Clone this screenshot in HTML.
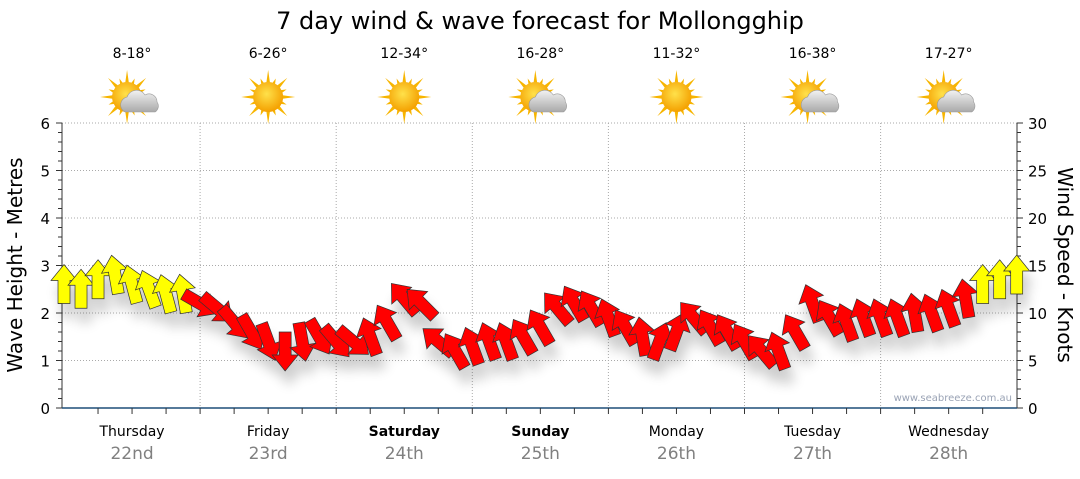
<!DOCTYPE html>
<html><head><meta charset="utf-8">
<style>
body{margin:0;background:#fff;font-family:"DejaVu Sans","Liberation Sans",sans-serif;}
svg text{font-family:"DejaVu Sans","Liberation Sans",sans-serif;}
</style></head>
<body>
<svg id="chart" width="1080" height="475" viewBox="0 0 1080 475" xmlns="http://www.w3.org/2000/svg">
<defs>
<filter id="sh" x="-50%" y="-50%" width="200%" height="250%">
<feGaussianBlur in="SourceAlpha" stdDeviation="6"/>
<feOffset dx="4" dy="14" result="b"/>
<feComponentTransfer><feFuncA type="linear" slope="0.2"/></feComponentTransfer>
<feMerge><feMergeNode/><feMergeNode in="SourceGraphic"/></feMerge>
</filter>
<radialGradient id="sun" cx="45%" cy="40%" r="60%"><stop offset="0" stop-color="#ffe14a"/><stop offset="1" stop-color="#f4a000"/></radialGradient>
<linearGradient id="cl" x1="0" y1="0" x2="0" y2="1"><stop offset="0" stop-color="#f2f2f2"/><stop offset="1" stop-color="#a9a9a9"/></linearGradient>
</defs>
<text x="540" y="29" font-size="24" text-anchor="middle" fill="#000">7 day wind &amp; wave forecast for Mollongghip</text>
<g id="grid"></g>
<g id="icons"></g>
<g id="axes"></g>
<g id="arrows" filter="url(#sh)"></g>
<text x="1012" y="401" font-size="10" text-anchor="end" fill="#9aa3b5">www.seabreeze.com.au</text>
<text transform="translate(22,265) rotate(-90)" font-size="20" text-anchor="middle">Wave Height - Metres</text>
<text transform="translate(1058,265) rotate(90)" font-size="20" text-anchor="middle">Wind Speed - Knots</text>
</svg>
<script>
const days=["Thursday","Friday","Saturday","Sunday","Monday","Tuesday","Wednesday"];
const dates=["22nd","23rd","24th","25th","26th","27th","28th"];
const boldDays=[false,false,true,true,false,false,false];
const temps=["8-18°","6-26°","12-34°","16-28°","11-32°","16-38°","17-27°"];
const cloudy=[true,false,false,true,false,true,true];
const waveTicks=[0,1,2,3,4,5,6];
const windTicks=[0,5,10,15,20,25,30];
// 3-hourly wind speed (knots) and direction arrow points (deg, 0=up)
const windSpeed=[13,12.5,13.5,14,13,12.5,12,12,
 11,10.5,9,8,7,6,7,7.5,
 7,7,7.5,9,11.5,11,7,6,
 6.5,7,7,7.5,8.5,10.5,11,10.5,
 9.5,8.5,7.5,7,8,9.5,8.5,8,
 7,6,6,8,11,9.5,9,9.5,
 9.5,9.5,10,10,10.5,11.5,13,13.5,14];
const windDir=[0,0,0,-10,-15,-20,-15,-10,
 120,130,140,150,160,180,170,150,
 140,130,-20,-30,-40,-45,-50,-30,
 -20,-20,-20,-30,-30,-40,-30,-30,
 -20,-30,-10,20,20,-40,-30,-30,
 -30,-40,-20,-30,-20,-30,-20,-20,
 -20,-20,-10,-20,-20,-10,0,0,0];
const NS="http://www.w3.org/2000/svg";
const X0=64,DW=136.1,Y0=408,Y6=123,XL=62,XR=1017;
const xH=h=>X0+DW*h/24;
const yM=m=>Y0-(Y0-Y6)*m/6;
const yK=k=>Y0-(Y0-Y6)*k/30;
function mk(t,a,p){const e=document.createElementNS(NS,t);for(const k in a)e.setAttribute(k,a[k]);(p||document.getElementById('chart')).appendChild(e);return e;}
const grid=document.getElementById('grid'),axes=document.getElementById('axes'),icons=document.getElementById('icons'),ar=document.getElementById('arrows');
waveTicks.forEach(v=>{
 if(v>0){const g=mk('line',{x1:XL,x2:XR,y1:yM(v),y2:yM(v),stroke:'#aaa','stroke-dasharray':'1,2'},grid);
 }
 const t=mk('text',{x:50,y:yM(v)+6,'font-size':15,'text-anchor':'end'},axes);t.textContent=v;
 
});
windTicks.forEach(v=>{const t=mk('text',{x:1028,y:yK(v)+6,'font-size':15},axes);t.textContent=v;
 });
for(let m=0;m<=6.001;m+=0.2){const big=Math.abs(m-Math.round(m))<0.01;
 mk('line',{x1:XL,x2:XL-(big?6:4),y1:yM(m),y2:yM(m),stroke:'#333'},axes);}
for(let k=0;k<=30;k+=1){mk('line',{x1:XR,x2:XR+(k%5==0?6:4),y1:yK(k),y2:yK(k),stroke:'#333'},axes);}
mk('line',{x1:XL,x2:XL,y1:Y6,y2:Y0,stroke:'#333'},axes);
mk('line',{x1:XR,x2:XR,y1:Y6,y2:Y0,stroke:'#333'},axes);
mk('line',{x1:XL,x2:XR,y1:Y0,y2:Y0,stroke:'#1f4e79','stroke-width':1.5},axes);
for(let h=6;h<168;h+=6){mk('line',{x1:xH(h),x2:xH(h),y1:Y0,y2:Y0+6,stroke:'#333'},axes);}
days.forEach((d,i)=>{
 if(i>0){const g=mk('line',{x1:xH(24*i),x2:xH(24*i),y1:Y6,y2:Y0,stroke:'#aaa','stroke-dasharray':'1,2'},grid);
 }
 const cx=xH(24*i+12);
 const t=mk('text',{x:cx,y:436,'font-size':14,'text-anchor':'middle','font-weight':boldDays[i]?'bold':'normal'},axes);t.textContent=d;
 
 const t2=mk('text',{x:cx,y:459,'font-size':17,'text-anchor':'middle',fill:'#808080'},axes);t2.textContent=dates[i];
 
 const t3=mk('text',{x:cx,y:58,'font-size':14,'text-anchor':'middle'},icons);t3.textContent=temps[i];
 
 const g=mk('g',{transform:`translate(${cx-(cloudy[i]?5:0)},97)`},icons);
 
 for(let r=0;r<16;r++){const a=r*Math.PI/8,L=r%2?20:27;
  mk('polygon',{points:`${Math.cos(a)*L},${Math.sin(a)*L} ${Math.cos(a+0.18)*12},${Math.sin(a+0.18)*12} ${Math.cos(a-0.18)*12},${Math.sin(a-0.18)*12}`,fill:'#f7b500'},g);}
 mk('circle',{r:15,fill:'url(#sun)'},g);
 if(cloudy[i]){const c=mk('g',{transform:'translate(12,5)'},g);
  mk('path',{d:'M-14,10 a8,8 0 0 1 2,-15 a10,10 0 0 1 18,-2 a8,8 0 0 1 12,7 a7,7 0 0 1 -2,10 z',fill:'url(#cl)',stroke:'#999','stroke-width':0.6},c);}
});
windSpeed.forEach((s,i)=>{
 const x=xH(i*3),y=yK(s),d=windDir[i];
 const yellow=s>=12;
 const p=mk('polygon',{points:'0,-20 13,-4 6,-4 6,19 -6,19 -6,-4 -13,-4',transform:`translate(${x},${y}) rotate(${d})`,fill:yellow?'#ffff00':'#ff0000',stroke:'#333','stroke-width':0.7},ar);
 
 
});
</script>
</body></html>
